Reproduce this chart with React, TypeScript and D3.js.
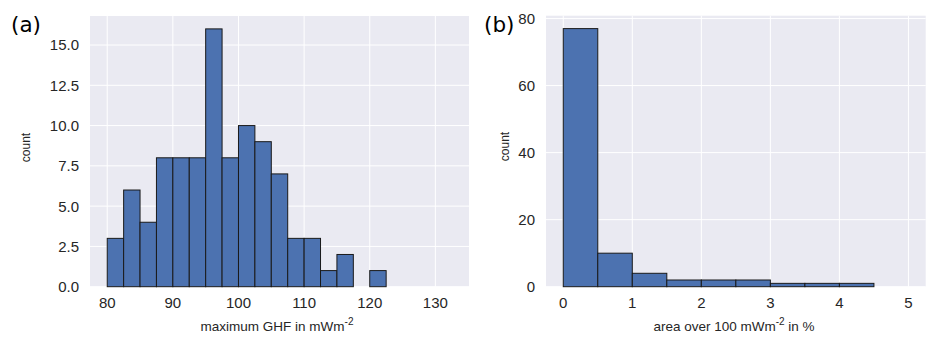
import React from "react";
import * as d3 from "d3";

// Panel (a): maximum GHF histogram
const ghfBinStarts = [80, 82.5, 85, 87.5, 90, 92.5, 95, 97.5, 100, 102.5, 105, 107.5, 110, 112.5, 115, 117.5, 120, 122.5, 125, 127.5, 130];
const ghfBinWidth = 2.5;
const ghfCounts = [3, 6, 4, 8, 8, 8, 16, 8, 10, 9, 7, 3, 3, 1, 2, 0, 1, 0, 0, 0, 0];
const ghfXTicks = [80, 90, 100, 110, 120, 130];
const ghfYTicks = [0, 2.5, 5, 7.5, 10, 12.5, 15];

// Panel (b): area over 100 mW/m2 histogram
const areaBinStarts = [0, 0.5, 1, 1.5, 2, 2.5, 3, 3.5, 4, 4.5];
const areaBinWidth = 0.5;
const areaCounts = [77, 10, 4, 2, 2, 2, 1, 1, 1, 0];
const areaXTicks = [0, 1, 2, 3, 4, 5];
const areaYTicks = [0, 20, 40, 60, 80];

const BG = "#eaeaf2";
const BAR = "#4c72b0";
const EDGE = "#1a1a1a";
const TXT = "#262626";
const FONT = "'Liberation Sans', Arial, sans-serif";

type PanelProps = {
  left: number; right: number; top: number; bottom: number;
  xDomain: [number, number]; yDomain: [number, number];
  starts: number[]; width: number; counts: number[];
  xTicks: number[]; yTicks: number[]; yFmt: (v: number) => string;
  letter: string; letterX: number;
  xLabel: React.ReactNode; xLabelX: number;
  countX: number; countY: number;
};

function Panel(p: PanelProps) {
  const x = d3.scaleLinear().domain(p.xDomain).range([p.left, p.right]);
  const y = d3.scaleLinear().domain(p.yDomain).range([p.bottom, p.top]);
  return (
    <g>
      <rect x={p.left} y={p.top} width={p.right - p.left} height={p.bottom - p.top} fill={BG} />
      {p.xTicks.map((t) => (
        <line key={"gx" + t} x1={x(t)} x2={x(t)} y1={p.top} y2={p.bottom} stroke="#fff" strokeWidth={1} />
      ))}
      {p.yTicks.map((t) => (
        <line key={"gy" + t} x1={p.left} x2={p.right} y1={y(t)} y2={y(t)} stroke="#fff" strokeWidth={1} />
      ))}
      {p.starts.map((s, i) =>
        p.counts[i] > 0 ? (
          <rect
            key={"b" + i}
            x={x(s)}
            y={y(p.counts[i])}
            width={x(s + p.width) - x(s)}
            height={y(0) - y(p.counts[i])}
            fill={BAR}
            stroke={EDGE}
            strokeWidth={1}
          />
        ) : null
      )}
      {p.xTicks.map((t) => (
        <text key={"tx" + t} x={x(t)} y={p.bottom + 21.5} textAnchor="middle" fontSize={15} fill={TXT} fontFamily={FONT}>
          {t}
        </text>
      ))}
      {p.yTicks.map((t) => (
        <text key={"ty" + t} x={p.left - 11} y={y(t)} dy="0.36em" textAnchor="end" fontSize={15} fill={TXT} fontFamily={FONT}>
          {p.yFmt(t)}
        </text>
      ))}
      <text
        transform={`translate(${p.countX},${p.countY}) rotate(-90)`}
        textAnchor="middle"
        fontSize={12}
        fill={TXT}
        fontFamily={FONT}
      >
        count
      </text>
      <text x={p.xLabelX} y={331} textAnchor="middle" fontSize={13.5} fill={TXT} fontFamily={FONT}>
        {p.xLabel}
      </text>
      <text x={p.letterX} y={32} fontSize={21.5} fill="#000" fontFamily="'DejaVu Sans', sans-serif">
        {p.letter}
      </text>
    </g>
  );
}

export default function App() {
  return (
    <svg
      width={938}
      height={343}
      style={{ position: "absolute", left: 0, top: 0, background: "#fff" }}
    >
      <Panel
        left={90} right={469} top={16} bottom={286.7}
        xDomain={[77.375, 135.125]} yDomain={[0, 16.8]}
        starts={ghfBinStarts} width={ghfBinWidth} counts={ghfCounts}
        xTicks={ghfXTicks} yTicks={ghfYTicks} yFmt={(v) => v.toFixed(1)}
        letter="(a)" letterX={11}
        countX={30} countY={147.5}
        xLabelX={277}
        xLabel={
          <>
            maximum GHF in mWm
            <tspan fontSize={10} dy={-6}>-2</tspan>
          </>
        }
      />
      <Panel
        left={546} right={925.7} top={15.7} bottom={286.7}
        xDomain={[-0.25, 5.25]} yDomain={[0, 80.85]}
        starts={areaBinStarts} width={areaBinWidth} counts={areaCounts}
        xTicks={areaXTicks} yTicks={areaYTicks} yFmt={(v) => String(v)}
        letter="(b)" letterX={484}
        countX={509} countY={146.5}
        xLabelX={734}
        xLabel={
          <>
            area over 100 mWm
            <tspan fontSize={10} dy={-6}>-2</tspan>
            <tspan dy={6}> in %</tspan>
          </>
        }
      />
    </svg>
  );
}
